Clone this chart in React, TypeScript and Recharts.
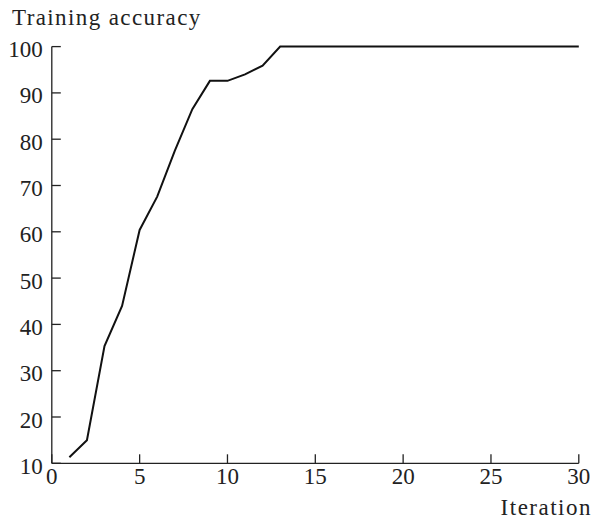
import { LineChart, Line, XAxis, YAxis } from 'recharts';

const iterations = [
  1, 2, 3, 4, 5, 6, 7, 8, 9, 10, 11, 12, 13, 14, 15, 16, 17, 18, 19, 20, 21, 22, 23, 24, 25, 26, 27, 28, 29, 30,
];
const accuracy = [
  11.3, 15.0, 35.3, 44.0, 60.4, 67.6, 77.5, 86.5, 92.6, 92.6, 94.0, 95.9, 100, 100, 100, 100, 100, 100, 100, 100,
  100, 100, 100, 100, 100, 100, 100, 100, 100, 100,
];
const xTicks = [0, 5, 10, 15, 20, 25, 30];
const yTicks = [10, 20, 30, 40, 50, 60, 70, 80, 90, 100];

const data = iterations.map((it, i) => ({ it, acc: accuracy[i] }));

const FONT = "'Liberation Serif', 'Times New Roman', Times, serif";
const textStyle = { fontFamily: FONT };

const XTick = (props: any) => {
  const { x, y, payload } = props;
  return (
    <g>
      <line x1={x} y1={y} x2={x} y2={y - 9} stroke="#222" strokeWidth={1.3} />
      <text x={x} y={y + 21} textAnchor="middle" style={textStyle} fontSize={23} fill="#222">
        {payload.value}
      </text>
    </g>
  );
};

const YTick = (props: any) => {
  const { x, y, payload } = props;
  return (
    <g>
      <line x1={x} y1={y} x2={x + 9} y2={y} stroke="#222" strokeWidth={1.3} />
      <text x={x - 9} y={y + 10.5} textAnchor="end" style={textStyle} fontSize={23} fill="#222">
        {payload.value}
      </text>
    </g>
  );
};

export default function App() {
  return (
    <div style={{ position: 'absolute', left: 0, top: 0, background: '#fff', fontFamily: FONT }}>
      <LineChart
        width={593}
        height={531}
        data={data}
        margin={{ top: 46.6, right: 14.2, bottom: 0, left: 0 }}
      >
        <XAxis
          dataKey="it"
          type="number"
          domain={[0, 30]}
          ticks={xTicks}
          tickSize={0}
          tickMargin={0}
          tick={<XTick />}
          stroke="#222"
          strokeWidth={1.3}
          height={67.7}
          interval={0}
          label={{
            value: 'Iteration',
            content: () => (
              <text x={592} y={515} textAnchor="end" style={textStyle} fontSize={23} letterSpacing={1.5} fill="#222">
                Iteration
              </text>
            ),
          }}
        />
        <YAxis
          type="number"
          domain={[10, 100]}
          ticks={yTicks}
          tickSize={0}
          tickMargin={0}
          tick={<YTick />}
          stroke="#222"
          strokeWidth={1.3}
          width={51.8}
          interval={0}
          label={{
            value: 'Training accuracy',
            content: () => (
              <text x={12} y={25} textAnchor="start" style={textStyle} fontSize={23} letterSpacing={1.4} fill="#222">
                Training accuracy
              </text>
            ),
          }}
        />
        <Line
          dataKey="acc"
          stroke="#111"
          strokeWidth={2}
          dot={false}
          type="linear"
          isAnimationActive={false}
        />
      </LineChart>
    </div>
  );
}
